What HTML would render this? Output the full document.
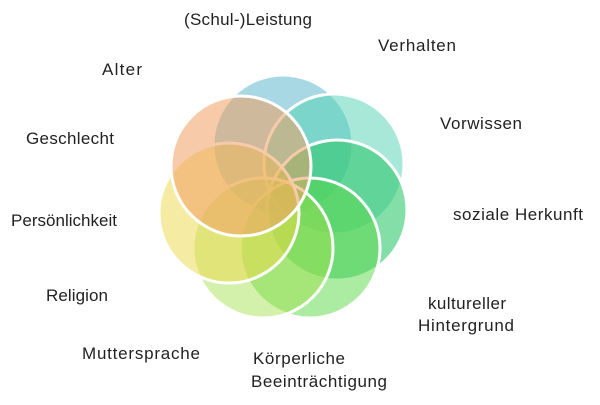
<!DOCTYPE html>
<html><head><style>
body{margin:0;width:600px;height:400px;background:#fff;overflow:hidden}
text{font-family:"Liberation Sans",sans-serif;font-size:17px;fill:#222}
</style></head><body>
<svg width="600" height="400" viewBox="0 0 600 400">
<g stroke="#fff" stroke-width="3">
<circle cx="283" cy="145" r="70" fill="rgba(120,195,212,0.65)"/>
<circle cx="334" cy="164" r="70" fill="rgba(80,210,180,0.5)"/>
<circle cx="337" cy="210" r="70" fill="rgba(50,200,110,0.6)"/>
<circle cx="310" cy="248" r="70" fill="rgba(90,215,70,0.5)"/>
<circle cx="263" cy="248" r="70" fill="rgba(160,225,70,0.45)"/>
<circle cx="229" cy="213" r="70" fill="rgba(235,215,70,0.5)"/>
<circle cx="241" cy="166" r="70" fill="rgba(240,160,100,0.55)"/>
</g>
<text x="184" y="25" textLength="128">(Schul-)Leistung</text>
<text x="378" y="51" textLength="78">Verhalten</text>
<text x="102" y="75" textLength="40">Alter</text>
<text x="440" y="129" textLength="82">Vorwissen</text>
<text x="26" y="144" textLength="88">Geschlecht</text>
<text x="453" y="220" textLength="130">soziale Herkunft</text>
<text x="11" y="226" textLength="106">Persönlichkeit</text>
<text x="46" y="301" textLength="62">Religion</text>
<text x="428" y="309" textLength="78">kultureller</text>
<text x="418" y="331" textLength="96">Hintergrund</text>
<text x="82" y="359" textLength="118">Muttersprache</text>
<text x="253" y="364" textLength="92">Körperliche</text>
<text x="251" y="387" textLength="136">Beeinträchtigung</text>
</svg>
</body></html>
